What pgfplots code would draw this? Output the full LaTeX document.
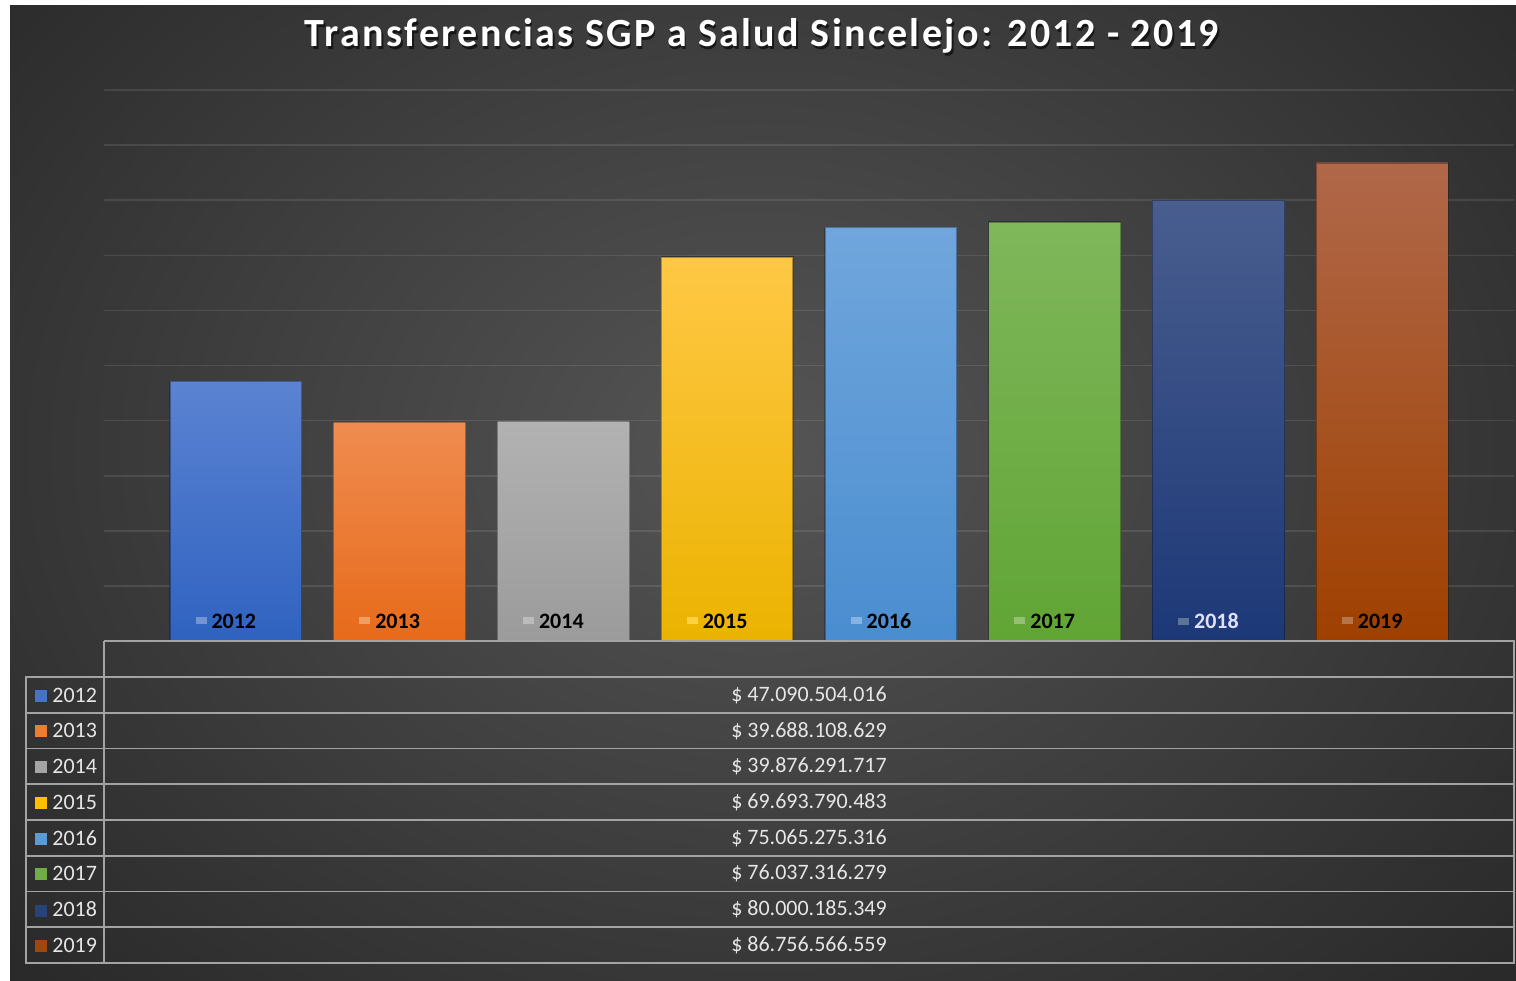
\documentclass[border=0pt]{standalone}
\usepackage{pgfplots}
\pgfplotsset{compat=1.18}
\usepackage{fontspec}
\setmainfont{Carlito}
\newfontfamily\titlefont[LetterSpace=6]{Carlito}

\definecolor{bgin}{HTML}{555555}
\definecolor{bgout}{HTML}{2A2A2A}
\definecolor{tabline}{HTML}{A3A3A3}
\definecolor{tabtext}{HTML}{E6E6E6}

\definecolor{c12t}{HTML}{5B83D2}\definecolor{c12b}{HTML}{2F62C0}\definecolor{c12}{HTML}{4472C4}
\definecolor{c13t}{HTML}{EF8C50}\definecolor{c13b}{HTML}{E76A1A}\definecolor{c13}{HTML}{ED7D31}
\definecolor{c14t}{HTML}{B2B2B2}\definecolor{c14b}{HTML}{9B9B9B}\definecolor{c14}{HTML}{A5A5A5}
\definecolor{c15t}{HTML}{FFC845}\definecolor{c15b}{HTML}{EBB300}\definecolor{c15}{HTML}{FFC000}
\definecolor{c16t}{HTML}{70A6DC}\definecolor{c16b}{HTML}{4A8DD0}\definecolor{c16}{HTML}{5B9BD5}
\definecolor{c17t}{HTML}{7FB75B}\definecolor{c17b}{HTML}{61A535}\definecolor{c17}{HTML}{70AD47}
\definecolor{c18t}{HTML}{495E8F}\definecolor{c18b}{HTML}{1D3877}\definecolor{c18}{HTML}{264478}
\definecolor{c19t}{HTML}{B0684A}\definecolor{c19b}{HTML}{9F4000}\definecolor{c19}{HTML}{9E480E}

\pgfplotsset{barsty/.style={ybar, bar width=0.805, bar shift=0pt, draw=black, draw opacity=0.3, line width=0.6bp}}

\begin{document}
\begin{tikzpicture}
\begin{scope}[x=0.5bp,y=-0.5bp]
\path[use as bounding box] (0,0) rectangle (1516,980);
\fill[white] (-5,-5) rectangle (1521,985);
\begin{scope}
\clip (10,5) rectangle (1525,990);
\fill[bgout] (10,5) rectangle (1525,990);
\shade[inner color=bgin, outer color=bgout] (760,450) ellipse [x radius=1000, y radius=760];
\end{scope}
% title
\node[text=black, opacity=0.6, font=\titlefont\bfseries\fontsize{20bp}{24bp}\selectfont] at (763.5,38.5) {Transferencias SGP a Salud Sincelejo: 2012 - 2019};
\node[text=white, font=\titlefont\bfseries\fontsize{20bp}{24bp}\selectfont] at (762,36) {Transferencias SGP a Salud Sincelejo: 2012 - 2019};
\end{scope}

\begin{axis}[
  at={(52bp,-320.5bp)}, anchor=south west,
  scale only axis, width=705bp, height=275.5bp,
  xmin=-0.805, xmax=7.805, ymin=0, ymax=100,
  axis line style={draw=none},
  xtick=\empty, ytick={0,10,...,100}, yticklabels={},
  major tick length=0pt,
  ymajorgrids, major grid style={color=white, opacity=0.1, line width=0.8bp},
  clip=false,
]
\addplot[barsty, top color=c12t, bottom color=c12b] coordinates {(0,47.090504016)};
\addplot[barsty, top color=c13t, bottom color=c13b] coordinates {(1,39.688108629)};
\addplot[barsty, top color=c14t, bottom color=c14b] coordinates {(2,39.876291717)};
\addplot[barsty, top color=c15t, bottom color=c15b] coordinates {(3,69.693790483)};
\addplot[barsty, top color=c16t, bottom color=c16b] coordinates {(4,75.065275316)};
\addplot[barsty, top color=c17t, bottom color=c17b] coordinates {(5,76.037316279)};
\addplot[barsty, top color=c18t, bottom color=c18b] coordinates {(6,80.000185349)};
\addplot[barsty, top color=c19t, bottom color=c19b] coordinates {(7,86.756566559)};

\foreach \i/\yr/\c/\tc in {0/2012/c12/black,1/2013/c13/black,2/2014/c14/black,3/2015/c15/black,4/2016/c16/black,5/2017/c17/black,6/2018/c18/white!88!blue,7/2019/c19/black}{
  \edef\tmp{\noexpand\node[anchor=center, xshift=-5bp, yshift=10bp, text=\tc, font=\noexpand\bfseries\noexpand\fontsize{11bp}{13bp}\noexpand\selectfont] at (axis cs:\i,0) {\noexpand\textcolor{\c!75!white}{\noexpand\rule[2bp]{5.5bp}{3.5bp}}\noexpand\hspace{2.5bp}\yr};}
  \tmp
}
\end{axis}

\begin{scope}[x=0.5bp,y=-0.5bp]
% data table
\begin{scope}[line width=0.9bp]
\draw[tabline] (104,641) -- (1514,641) -- (1514,963) -- (26,963) -- (26,677) -- (1514,677);
\draw[tabline] (104,641) -- (104,963);
\foreach \k in {1,...,7}{
  \draw[tabline] (26,677+35.75*\k) -- (1514,677+35.75*\k);
}
\end{scope}
\foreach \k/\yr/\c/\v in {0/2012/c12/47.090.504.016,1/2013/c13/39.688.108.629,2/2014/c14/39.876.291.717,3/2015/c15/69.693.790.483,4/2016/c16/75.065.275.316,5/2017/c17/76.037.316.279,6/2018/c18/80.000.185.349,7/2019/c19/86.756.566.559}{
  \node[anchor=west, text=tabtext, font=\fontsize{11bp}{13bp}\selectfont, inner sep=0pt] at (35,695+35.75*\k) {\textcolor{\c}{\rule[0.2bp]{6bp}{6bp}}\hspace{2.5bp}\yr};
  \node[text=tabtext, font=\fontsize{11bp}{13bp}\selectfont] at (809,695+35.75*\k) {\$ \v};
}
\end{scope}
\end{tikzpicture}
\end{document}
